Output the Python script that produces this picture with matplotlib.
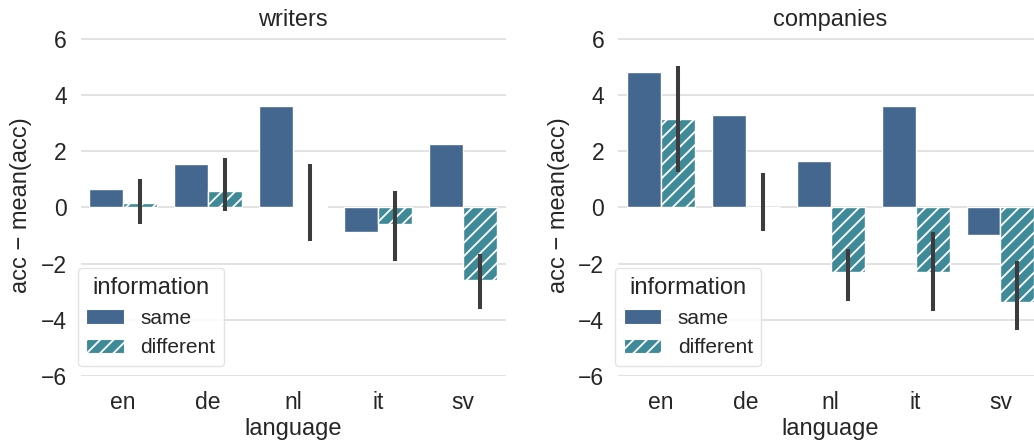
import matplotlib
matplotlib.use("Agg")
import matplotlib.pyplot as plt
from matplotlib.patches import Patch
import seaborn as sns
import numpy as np

# data (acc - mean(acc))
languages = ["en", "de", "nl", "it", "sv"]
panels = ["writers", "companies"]

same_vals = {
    "writers": [0.66, 1.56, 3.63, -0.86, 2.26],
    "companies": [4.81, 3.28, 1.65, 3.63, -0.99],
}
diff_vals = {
    "writers": [0.16, 0.58, 0.07, -0.60, -2.59],
    "companies": [3.14, 0.0, -2.29, -2.29, -3.38],
}
# 95% CI of the "different" bars (low, high)
diff_lo = {
    "writers": [-0.60, -0.12, -1.18, -1.89, -3.61],
    "companies": [1.28, -0.84, -3.32, -3.67, -4.36],
}
diff_hi = {
    "writers": [1.01, 1.75, 1.56, 0.59, -1.66],
    "companies": [5.04, 1.22, -1.49, -0.88, -1.90],
}

# dpi 80 so the hatch spacing matches; sizes scaled by S
DPI = 80
S = 100 / DPI

sns.set_theme(style="whitegrid")
plt.rcParams["font.family"] = ["Liberation Sans", "DejaVu Sans"]
plt.rcParams["hatch.color"] = "white"
plt.rcParams["hatch.linewidth"] = 1.3 * S

c_same = "#446790"
c_diff = "#3f8a99"
txt = "#262626"

fig = plt.figure(figsize=(1034 / DPI, 440 / DPI), dpi=DPI)
positions = [0.0779, 0.5977]

x = np.arange(len(languages))
w = 0.4

for left, name in zip(positions, panels):
    ax = fig.add_axes([left, 0.1455, 0.411, 0.7755])
    ax.bar(x - w / 2, same_vals[name], width=w, color=c_same,
           edgecolor="white", linewidth=1 * S, zorder=2)
    ax.bar(x + w / 2, diff_vals[name], width=w, color=c_diff,
           edgecolor="white", linewidth=1 * S, hatch="//", zorder=2)
    ax.vlines(x + w / 2, diff_lo[name], diff_hi[name], color="#3c3c3c",
              linewidth=2.9 * S, zorder=3)

    ax.set_xlim(-0.5, len(languages) - 0.5)
    ax.set_ylim(-6.0, 6.15)
    ax.set_yticks([-6, -4, -2, 0, 2, 4, 6])
    ax.set_xticks(x)
    ax.set_xticklabels(languages)
    ax.grid(axis="x", visible=False)
    ax.grid(axis="y", color="#dddddd", linewidth=1.2 * S)
    ax.set_axisbelow(True)
    for s in ax.spines.values():
        s.set_visible(False)
    ax.tick_params(axis="both", labelsize=16.5 * S, colors=txt, length=0)
    ax.tick_params(axis="y", pad=10 * S)
    ax.tick_params(axis="x", pad=11 * S)

    ax.set_title(name, fontsize=17 * S, color=txt, pad=6 * S)
    ax.set_xlabel("language", fontsize=17 * S, color=txt, labelpad=3 * S)
    ax.set_ylabel("acc \u2212 mean(acc)", fontsize=17 * S, color=txt,
                  labelpad=6 * S)

    handles = [Patch(facecolor=c_same, edgecolor="white", label="same"),
               Patch(facecolor=c_diff, edgecolor="white", hatch="//",
                     label="different")]
    leg = ax.legend(handles=handles, title="information", loc="lower left",
                    bbox_to_anchor=(-0.0066, 0.03), borderaxespad=0,
                    fontsize=15 * S, title_fontsize=17 * S, frameon=True,
                    handlelength=1.8)
    leg.get_frame().set_edgecolor("#dddddd")
    leg.get_frame().set_linewidth(1 * S)

fig.savefig("out.png", dpi=DPI)
